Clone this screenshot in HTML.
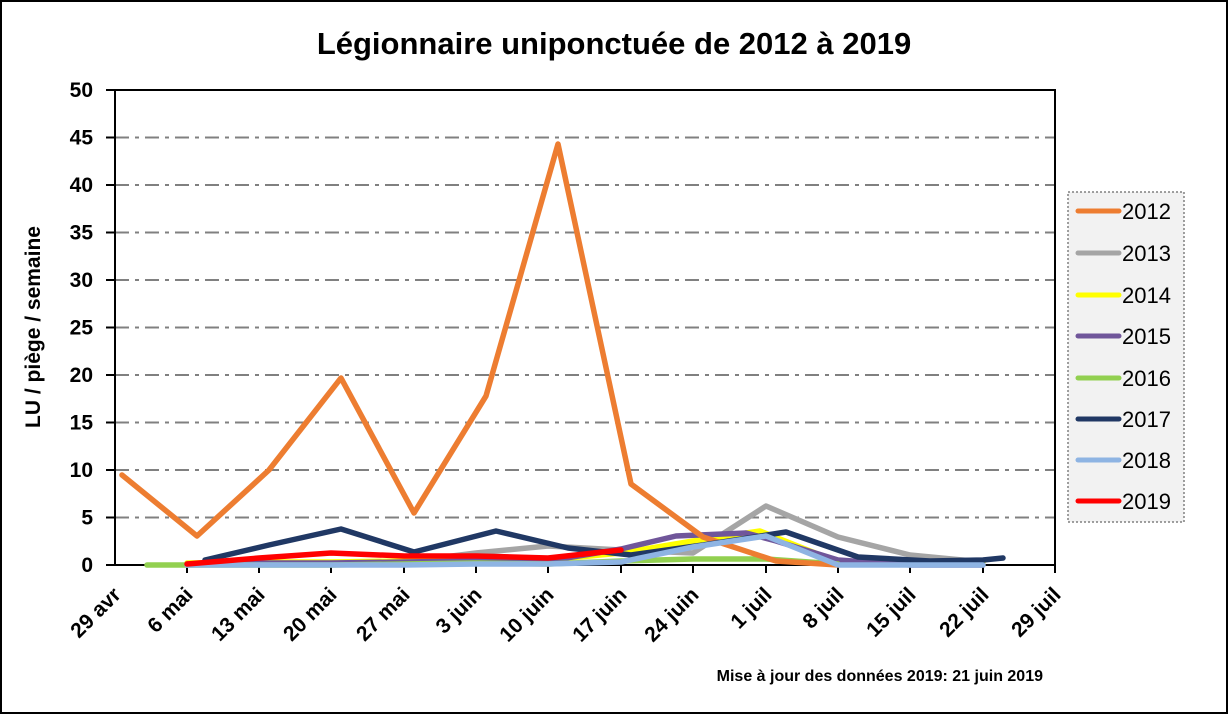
<!DOCTYPE html>
<html><head><meta charset="utf-8"><style>
body{margin:0;background:#fff}
svg{display:block;font-family:"Liberation Sans","DejaVu Sans",sans-serif}
</style></head><body>
<svg width="1228" height="714" viewBox="0 0 1228 714" xmlns="http://www.w3.org/2000/svg">
<rect x="1" y="1" width="1226" height="712" fill="#fff" stroke="#000" stroke-width="2"/>
<text x="614" y="54" text-anchor="middle" font-size="31" font-weight="bold">Légionnaire uniponctuée de 2012 à 2019</text>
<g stroke="#808080" stroke-width="2" stroke-dasharray="14,6,4,6">
<line x1="115" y1="137.5" x2="1055" y2="137.5"/><line x1="115" y1="185" x2="1055" y2="185"/>
<line x1="115" y1="232.5" x2="1055" y2="232.5"/><line x1="115" y1="280" x2="1055" y2="280"/>
<line x1="115" y1="327.5" x2="1055" y2="327.5"/><line x1="115" y1="375" x2="1055" y2="375"/>
<line x1="115" y1="422.5" x2="1055" y2="422.5"/><line x1="115" y1="470" x2="1055" y2="470"/>
<line x1="115" y1="517.5" x2="1055" y2="517.5"/>
</g>
<rect x="115" y="90" width="940" height="475" fill="none" stroke="#000" stroke-width="2"/>
<g stroke="#000" stroke-width="2">
<line x1="106" y1="90" x2="115" y2="90"/><line x1="106" y1="137.5" x2="115" y2="137.5"/><line x1="106" y1="185" x2="115" y2="185"/><line x1="106" y1="232.5" x2="115" y2="232.5"/><line x1="106" y1="280" x2="115" y2="280"/><line x1="106" y1="327.5" x2="115" y2="327.5"/><line x1="106" y1="375" x2="115" y2="375"/><line x1="106" y1="422.5" x2="115" y2="422.5"/><line x1="106" y1="470" x2="115" y2="470"/><line x1="106" y1="517.5" x2="115" y2="517.5"/><line x1="106" y1="565" x2="115" y2="565"/>
<line x1="187" y1="565" x2="187" y2="573"/><line x1="259" y1="565" x2="259" y2="573"/><line x1="331" y1="565" x2="331" y2="573"/><line x1="404" y1="565" x2="404" y2="573"/><line x1="476" y1="565" x2="476" y2="573"/><line x1="548" y1="565" x2="548" y2="573"/><line x1="621" y1="565" x2="621" y2="573"/><line x1="693" y1="565" x2="693" y2="573"/><line x1="766" y1="565" x2="766" y2="573"/><line x1="838" y1="565" x2="838" y2="573"/><line x1="910" y1="565" x2="910" y2="573"/><line x1="983" y1="565" x2="983" y2="573"/><line x1="1055" y1="565" x2="1055" y2="573"/>
</g>
<g font-size="21" font-weight="bold" text-anchor="end">
<text x="93" y="97">50</text><text x="93" y="144.5">45</text><text x="93" y="192">40</text><text x="93" y="239.5">35</text><text x="93" y="287">30</text><text x="93" y="334.5">25</text><text x="93" y="382">20</text><text x="93" y="429.5">15</text><text x="93" y="477">10</text><text x="93" y="524.5">5</text><text x="93" y="572">0</text>
</g>
<text transform="translate(40,327) rotate(-90)" text-anchor="middle" font-size="21" font-weight="bold">LU / piège / semaine</text>
<g font-size="21" font-weight="bold" text-anchor="end">
<text transform="translate(122,596) rotate(-45)">29 avr</text>
<text transform="translate(194,596) rotate(-45)">6 mai</text>
<text transform="translate(266,596) rotate(-45)">13 mai</text>
<text transform="translate(338,596) rotate(-45)">20 mai</text>
<text transform="translate(411,596) rotate(-45)">27 mai</text>
<text transform="translate(483,596) rotate(-45)">3 juin</text>
<text transform="translate(555,596) rotate(-45)">10 juin</text>
<text transform="translate(628,596) rotate(-45)">17 juin</text>
<text transform="translate(700,596) rotate(-45)">24 juin</text>
<text transform="translate(773,596) rotate(-45)">1 juil</text>
<text transform="translate(845,596) rotate(-45)">8 juil</text>
<text transform="translate(917,596) rotate(-45)">15 juil</text>
<text transform="translate(990,596) rotate(-45)">22 juil</text>
<text transform="translate(1062,596) rotate(-45)">29 juil</text>
</g>
<text x="1043" y="681" text-anchor="end" font-size="16" font-weight="bold">Mise à jour des données 2019: 21 juin 2019</text>
<g fill="none" stroke-width="5.5" stroke-linejoin="round" stroke-linecap="round">
<polyline stroke="#a5a5a5" points="187,565 259,564 331,563 404,562 476,553 548,546 621,550 693,553 766,506 838,537 910,555 983,562"/>
<polyline stroke="#ffff00" points="187,563 259,562 331,562 404,561 476,561 548,560 621,553 693,541 760,531 838,562 910,562 983,562"/>
<polyline stroke="#70569a" points="187,564 259,563 331,563 404,562 476,561 548,561 621,549 676,536 746,533 776,541 838,560 910,565 983,565"/>
<polyline stroke="#92d050" points="147,565 187,565 259,565 331,565 404,564 476,563 548,564 621,561 693,559 766,559 838,564"/>
<polyline stroke="#ed7d31" points="122,475 197,536 269,470 341,378 414,513 486,396 558,144 631,484 703,537 776,561 838,565"/>
<polyline stroke="#203864" points="205,560 269,545 341,529 414,552 496,531 568,548 631,555 703,545 786,532 858,557 930,561 983,560 1003,558"/>
<polyline stroke="#8eb4e3" points="187,565 259,565 331,565 404,565 476,564 548,564 621,562 693,547 766,536 838,565 910,565 983,565"/>
<polyline stroke="#ff0000" points="187,564 259,558 331,553 404,556 476,556 548,558 621,550"/>
</g>
<rect x="1068" y="192" width="116" height="330" fill="#f2f2f2" stroke="#808080" stroke-width="1.5" stroke-dasharray="2,2"/>
<g stroke-width="5" stroke-linecap="round">
<line x1="1078" y1="211" x2="1119" y2="211" stroke="#ed7d31"/>
<line x1="1078" y1="253" x2="1119" y2="253" stroke="#a5a5a5"/>
<line x1="1078" y1="295" x2="1119" y2="295" stroke="#ffff00"/>
<line x1="1078" y1="336" x2="1119" y2="336" stroke="#70569a"/>
<line x1="1078" y1="378" x2="1119" y2="378" stroke="#92d050"/>
<line x1="1078" y1="419" x2="1119" y2="419" stroke="#203864"/>
<line x1="1078" y1="460" x2="1119" y2="460" stroke="#8eb4e3"/>
<line x1="1078" y1="501" x2="1119" y2="501" stroke="#ff0000"/>
</g>
<g font-size="22">
<text x="1122" y="219">2012</text><text x="1122" y="261">2013</text><text x="1122" y="303">2014</text><text x="1122" y="344">2015</text><text x="1122" y="386">2016</text><text x="1122" y="427">2017</text><text x="1122" y="468">2018</text><text x="1122" y="509">2019</text>
</g>
</svg>
</body></html>
